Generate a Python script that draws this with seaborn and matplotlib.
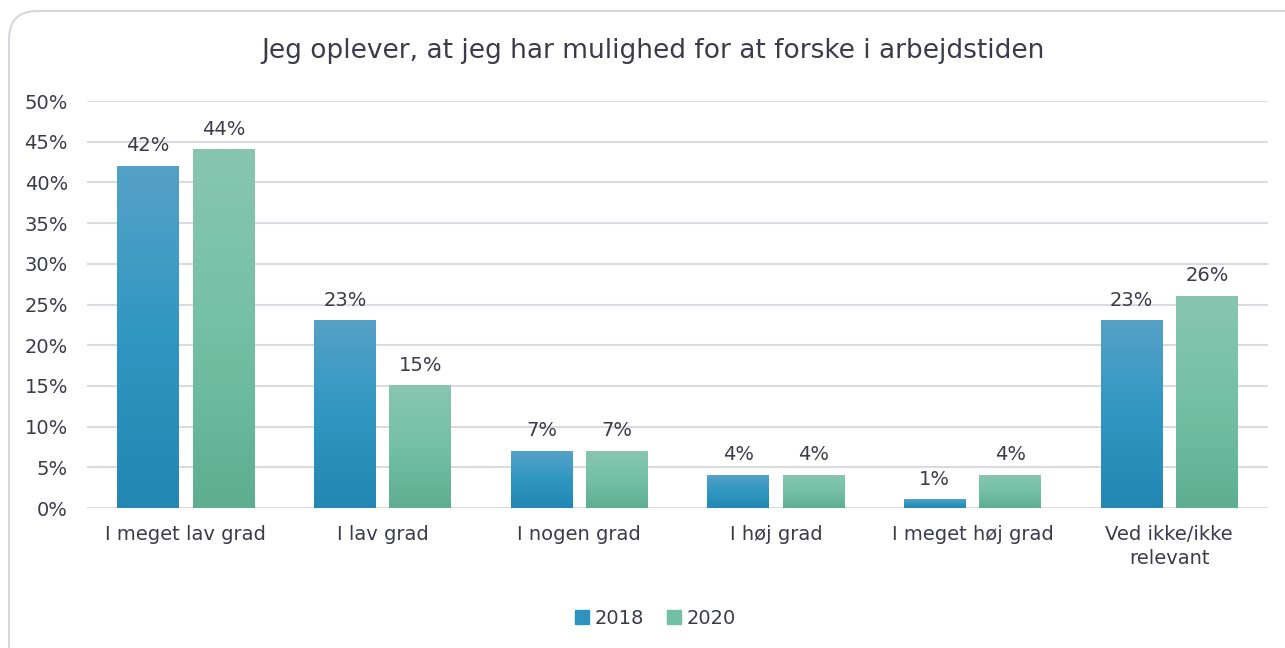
import numpy as np
import pandas as pd
import matplotlib
matplotlib.use("Agg")
import matplotlib.pyplot as plt
import seaborn as sns
from matplotlib.patches import FancyBboxPatch, Patch
from matplotlib.colors import LinearSegmentedColormap

categories = ["I meget lav grad", "I lav grad", "I nogen grad", "I høj grad",
              "I meget høj grad", "Ved ikke/ikke\nrelevant"]
years = ["2018", "2020"]
values_2018 = [42, 23, 7, 4, 1, 23]
values_2020 = [44, 15, 7, 4, 4, 26]

df = pd.DataFrame({
    "kategori": categories * 2,
    "år": ["2018"] * 6 + ["2020"] * 6,
    "pct": values_2018 + values_2020,
})

text_col = "#3b3b4b"
mid_cols = {"2018": "#2e94bf", "2020": "#73bfa5"}
grads = {
    "2018": LinearSegmentedColormap.from_list("b", ["#2287b2", "#2f97c1", "#56a1c7"]),
    "2020": LinearSegmentedColormap.from_list("g", ["#5eae92", "#74c0a6", "#88c6b2"]),
}

sns.set_style("white")
plt.rcParams["font.family"] = ["DejaVu Sans"]

fig = plt.figure(figsize=(12.85, 6.48), dpi=100)
ax = fig.add_axes([87.5 / 1285, 0.216, 1180 / 1285, 0.628])

sns.barplot(data=df, x="kategori", y="pct", hue="år", palette=mid_cols,
            width=0.766, gap=0.18, ax=ax, legend=False)

# gradient fill for each bar, plus value label
grad = np.linspace(0, 1, 256).reshape(-1, 1)
for cont, yr in zip(ax.containers, years):
    for bar in cont:
        x, w, h = bar.get_x(), bar.get_width(), bar.get_height()
        bar.set_alpha(0)
        ax.imshow(grad, extent=[x, x + w, 0, h], origin="lower", aspect="auto",
                  cmap=grads[yr], zorder=3)
        ax.annotate(f"{h:.0f}%", (x + w / 2, h), xytext=(0, 8),
                    textcoords="offset points", ha="center", va="bottom",
                    fontsize=14, color=text_col)

ax.set_ylim(0, 50)
ax.set_xlim(-0.5, 5.5)
ax.set_yticks(range(0, 51, 5))
ax.set_yticklabels([f"{v}%" for v in range(0, 51, 5)])
ax.yaxis.grid(True, color="#dadae0", linewidth=1.5, zorder=0)
ax.set_axisbelow(True)
for s in ax.spines.values():
    s.set_visible(False)
ax.tick_params(axis="both", length=0, labelsize=14, colors=text_col)
ax.tick_params(axis="y", pad=14)
ax.tick_params(axis="x", pad=12)
for lab in ax.get_xticklabels():
    lab.set_linespacing(1.35)
ax.set_xlabel("")
ax.set_ylabel("")

fig.text(0.508, 0.922, "Jeg oplever, at jeg har mulighed for at forske i arbejdstiden",
         ha="center", va="center", fontsize=19, color=text_col)

handles = [Patch(color=mid_cols[y], label=y) for y in years]
fig.legend(handles=handles, loc="center", bbox_to_anchor=(0.51, 0.046), ncol=2,
           frameon=False, fontsize=14, handlelength=0.7, handleheight=0.7,
           handletextpad=0.3, columnspacing=1.2, labelcolor=text_col)

border = FancyBboxPatch((9 / 1285, -0.05), 1.05, 1.05 - 11 / 648,
                        boxstyle="round,pad=0,rounding_size=0.022",
                        transform=fig.transFigure, fill=False,
                        edgecolor="#d6d6de", linewidth=1.5, mutation_aspect=1285 / 648)
fig.patches.append(border)

fig.savefig("out.png", dpi=100, facecolor="white")
